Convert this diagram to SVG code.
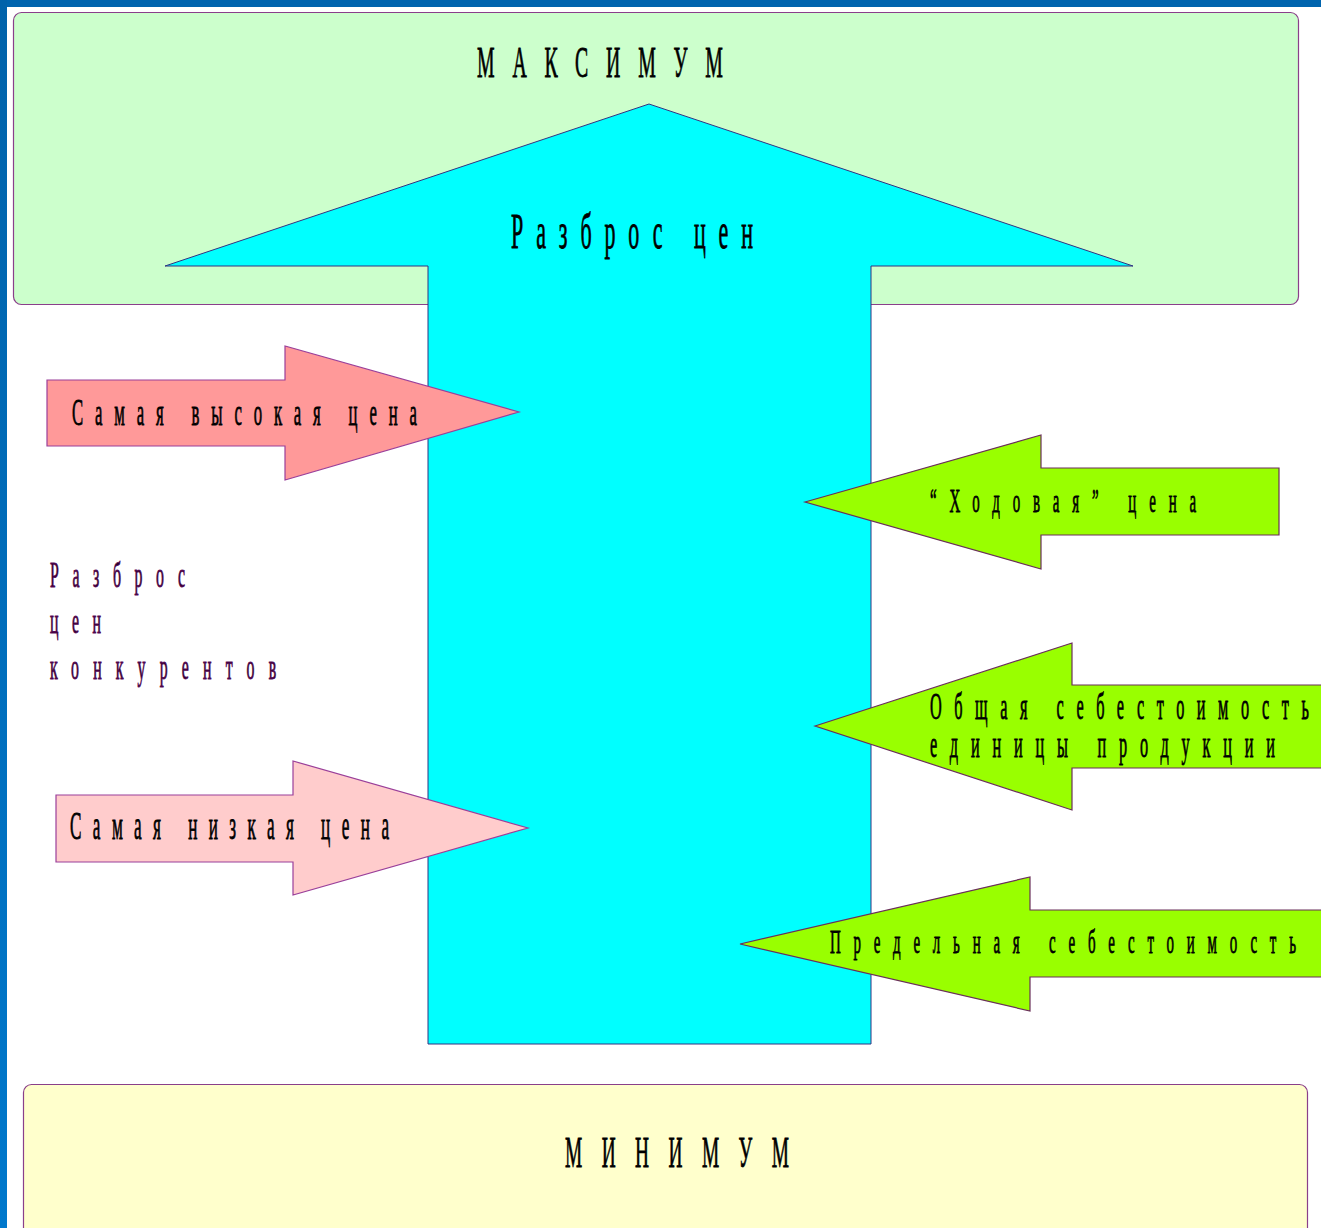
<svg xmlns="http://www.w3.org/2000/svg" width="1321" height="1228" viewBox="0 0 1321 1228">
<defs>
<style>
.t{font-family:"Liberation Serif","DejaVu Serif",serif;fill:#000;stroke:#000;stroke-width:0.8;}
.p{fill:#2e002c;stroke:#5a0a58;stroke-width:0.9;}
.box{stroke:#8a3f8a;stroke-width:1.2;}
.pink{stroke:#9a3f9a;stroke-width:1.2;}
.lime{fill:#99ff00;stroke:#6a2f5a;stroke-width:1.2;}
</style>
<linearGradient id="side" x1="0" y1="0" x2="0" y2="1">
<stop offset="0" stop-color="#0062aa"/>
<stop offset="1" stop-color="#0078cc"/>
</linearGradient>
</defs>
<rect x="0" y="0" width="1321" height="1228" fill="#ffffff"/>
<rect x="0" y="0" width="1321" height="7" fill="#0064ae"/>
<rect x="0" y="0" width="7" height="1228" fill="url(#side)"/>

<g id="max-box">
<rect class="box" x="13.5" y="12.5" width="1285" height="292" rx="8" fill="#ccffcc"/>
<text class="t" font-size="45" transform="translate(477 77) scale(0.44 1)" x="0" y="0" textLength="559" lengthAdjust="spacing">МАКСИМУМ</text>
</g>

<g id="min-box">
<rect class="box" x="23.5" y="1084.5" width="1284" height="160" rx="8" fill="#ffffcc"/>
<text class="t" font-size="44" transform="translate(565 1167) scale(0.44 1)" x="0" y="0" textLength="509" lengthAdjust="spacing">МИНИМУМ</text>
</g>

<g id="spread-arrow">
<polygon points="649,104 1133,266 871,266 871,1044 428,1044 428,266 165,266" fill="#00ffff" stroke="#333380" stroke-width="1"/>
<text class="t" font-size="50" transform="translate(511 248) scale(0.44 1)" x="0" y="0" textLength="550" lengthAdjust="spacing">Разброс цен</text>
</g>

<g id="competitors-label">
<text class="t p" font-size="36" transform="translate(50 587) scale(0.44 1)" x="0" y="0" textLength="307" lengthAdjust="spacing">Разброс</text>
<text class="t p" font-size="36" transform="translate(50 633) scale(0.44 1)" x="0" y="0" textLength="116" lengthAdjust="spacing">цен</text>
<text class="t p" font-size="36" transform="translate(50 679) scale(0.44 1)" x="0" y="0" textLength="514" lengthAdjust="spacing">конкурентов</text>
</g>

<g id="highest-price">
<polygon class="pink" points="47,380 285,380 285,346 519,412 285,480 285,446 47,446" fill="#ff9999"/>
<text class="t" font-size="38" transform="translate(72 425) scale(0.44 1)" x="0" y="0" textLength="784" lengthAdjust="spacing">Самая высокая цена</text>
</g>

<g id="lowest-price">
<polygon class="pink" points="56,795 293,795 293,761 528,828 293,895 293,862 56,862" fill="#ffcccc"/>
<text class="t" font-size="39" transform="translate(70 839) scale(0.44 1)" x="0" y="0" textLength="725" lengthAdjust="spacing">Самая низкая цена</text>
</g>

<g id="running-price">
<polygon class="lime" points="805,502 1041,435 1041,468 1279,468 1279,535 1041,535 1041,569"/>
<text class="t" font-size="34" transform="translate(930 512) scale(0.44 1)" x="0" y="0" textLength="605" lengthAdjust="spacing">“Ходовая” цена</text>
</g>

<g id="total-cost">
<polygon class="lime" points="815,726 1072,643 1072,685 1330,685 1330,768 1072,768 1072,810"/>
<text class="t" font-size="37" transform="translate(930 719) scale(0.44 1)" x="0" y="0" textLength="861" lengthAdjust="spacing">Общая себестоимость</text>
<text class="t" font-size="37" transform="translate(930 757) scale(0.44 1)" x="0" y="0" textLength="784" lengthAdjust="spacing">единицы продукции</text>
</g>

<g id="marginal-cost">
<polygon class="lime" points="740,944 1030,877 1030,910 1330,910 1330,977 1030,977 1030,1011"/>
<text class="t" font-size="34" transform="translate(830 953) scale(0.44 1)" x="0" y="0" textLength="1059" lengthAdjust="spacing">Предельная себестоимость</text>
</g>

<g id="connectors"></g>
</svg>
